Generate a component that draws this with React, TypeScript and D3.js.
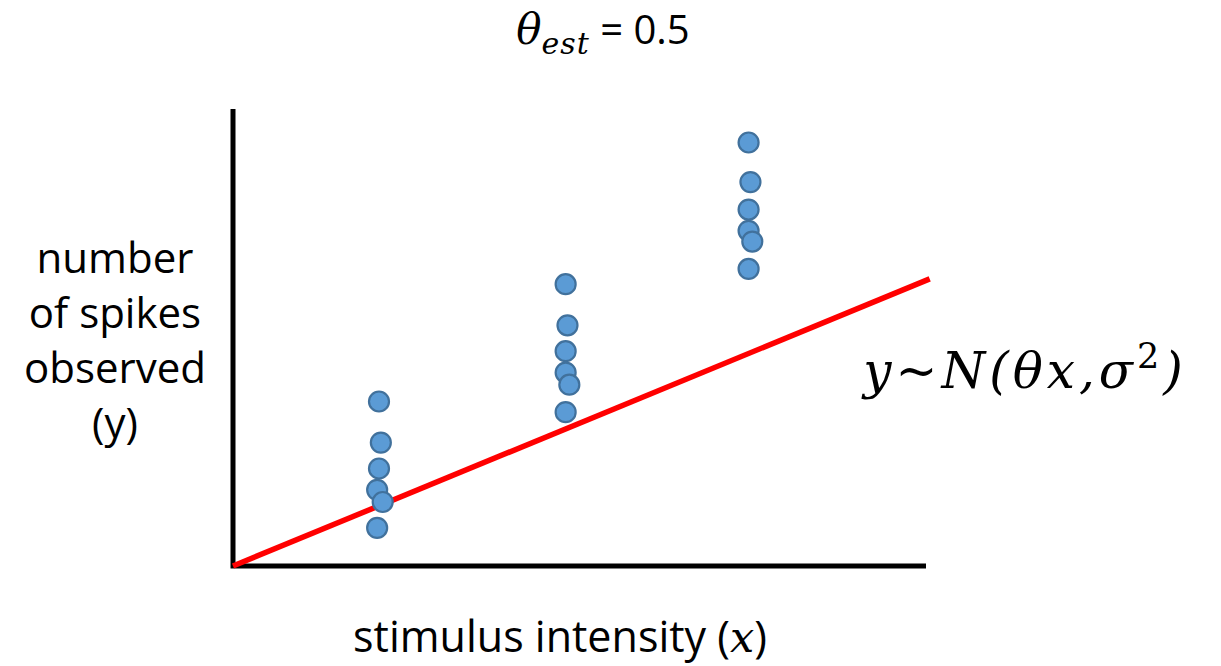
import { useEffect, useRef } from 'react';
import * as d3 from 'd3';

// stimulus intensity of each observation (three stimulus levels, slight overlap jitter)
const stimulusX = [
  0.79, 0.8, 0.79, 0.78, 0.81, 0.78,
  1.8, 1.81, 1.8, 1.8, 1.82, 1.8,
  2.79, 2.8, 2.79, 2.79, 2.81, 2.79,
];
// number of spikes observed
const spikesY = [
  1.08, 0.81, 0.64, 0.5, 0.42, 0.25,
  1.85, 1.58, 1.41, 1.27, 1.19, 1.01,
  2.78, 2.52, 2.34, 2.2, 2.13, 1.95,
];
const thetaEst = 0.5;
const xDomain = [0, 3.75];
const yDomain = [0, 3];
const lineX = [0, 3.77];
const yLabelLines = ['number', 'of spikes', 'observed', '(y)'];

export default function App() {
  const svgRef = useRef<SVGSVGElement>(null);
  const width = 1221;
  const height = 666;

  useEffect(() => {
    if (!svgRef.current) return;
    const svg = d3.select(svgRef.current);
    svg.selectAll('*').remove();

    const x = d3.scaleLinear().domain(xDomain).range([233, 926]);
    const y = d3.scaleLinear().domain(yDomain).range([566, 109]);

    const sans = '"Open Sans", sans-serif';
    const serif = '"DejaVu Serif", serif';

    // axes (plain L shape, no ticks)
    svg.append('path')
      .attr('d', `M${x(0)},${y(yDomain[1])} L${x(0)},${y(0)} L${x(xDomain[1])},${y(0)}`)
      .attr('fill', 'none')
      .attr('stroke', '#000')
      .attr('stroke-width', 5);

    // fitted line y = theta * x
    const line = d3.line<number>()
      .x(d => x(d))
      .y(d => y(thetaEst * d));
    svg.append('path')
      .attr('d', line(lineX) as string)
      .attr('fill', 'none')
      .attr('stroke', '#FF0000')
      .attr('stroke-width', 5.5);

    // observations
    svg.append('g')
      .selectAll('circle')
      .data(stimulusX.map((sx, i) => [sx, spikesY[i]]))
      .join('circle')
      .attr('cx', d => x(d[0]))
      .attr('cy', d => y(d[1]))
      .attr('r', 10)
      .attr('fill', '#5B9BD5')
      .attr('stroke', '#41719C')
      .attr('stroke-width', 2.2);

    // title
    const title = svg.append('text')
      .attr('x', 603)
      .attr('y', 44)
      .attr('text-anchor', 'middle')
      .style('font-family', sans)
      .style('font-size', '40px')
      .style('fill', '#000');
    title.append('tspan')
      .style('font-family', serif)
      .style('font-style', 'italic')
      .style('font-size', '42px')
      .text('θ');
    title.append('tspan')
      .attr('dy', 10)
      .style('font-family', serif)
      .style('font-style', 'italic')
      .style('font-size', '30px')
      .style('letter-spacing', '1px')
      .text('est');
    title.append('tspan')
      .attr('dy', -10)
      .text(' = 0.5');

    // y label
    svg.append('g')
      .selectAll('text')
      .data(yLabelLines)
      .join('text')
      .attr('x', 115)
      .attr('y', (_, i) => 273 + i * 55)
      .attr('text-anchor', 'middle')
      .style('font-family', sans)
      .style('font-size', '42px')
      .style('fill', '#000')
      .text(d => d);

    // x label
    const xl = svg.append('text')
      .attr('x', 560)
      .attr('y', 652)
      .attr('text-anchor', 'middle')
      .style('font-family', sans)
      .style('font-size', '43px')
      .style('fill', '#000');
    xl.append('tspan').text('stimulus intensity (');
    xl.append('tspan')
      .style('font-family', serif)
      .style('font-style', 'italic')
      .text('x');
    xl.append('tspan').text(')');

    // model formula
    const f = svg.append('text')
      .attr('x', 1025)
      .attr('y', 388)
      .attr('text-anchor', 'middle')
      .style('font-family', serif)
      .style('font-style', 'italic')
      .style('font-size', '50px')
      .style('letter-spacing', '4px')
      .style('fill', '#000');
    f.append('tspan').text('y~N(θx,σ');
    f.append('tspan')
      .attr('dy', -20)
      .style('font-size', '35px')
      .style('font-style', 'normal')
      .text('2');
    f.append('tspan')
      .attr('dy', 20)
      .text(')');
  }, []);

  return (
    <svg
      ref={svgRef}
      width={width}
      height={height}
      style={{ display: 'block', position: 'absolute', left: 0, top: 0, background: '#fff' }}
    />
  );
}
